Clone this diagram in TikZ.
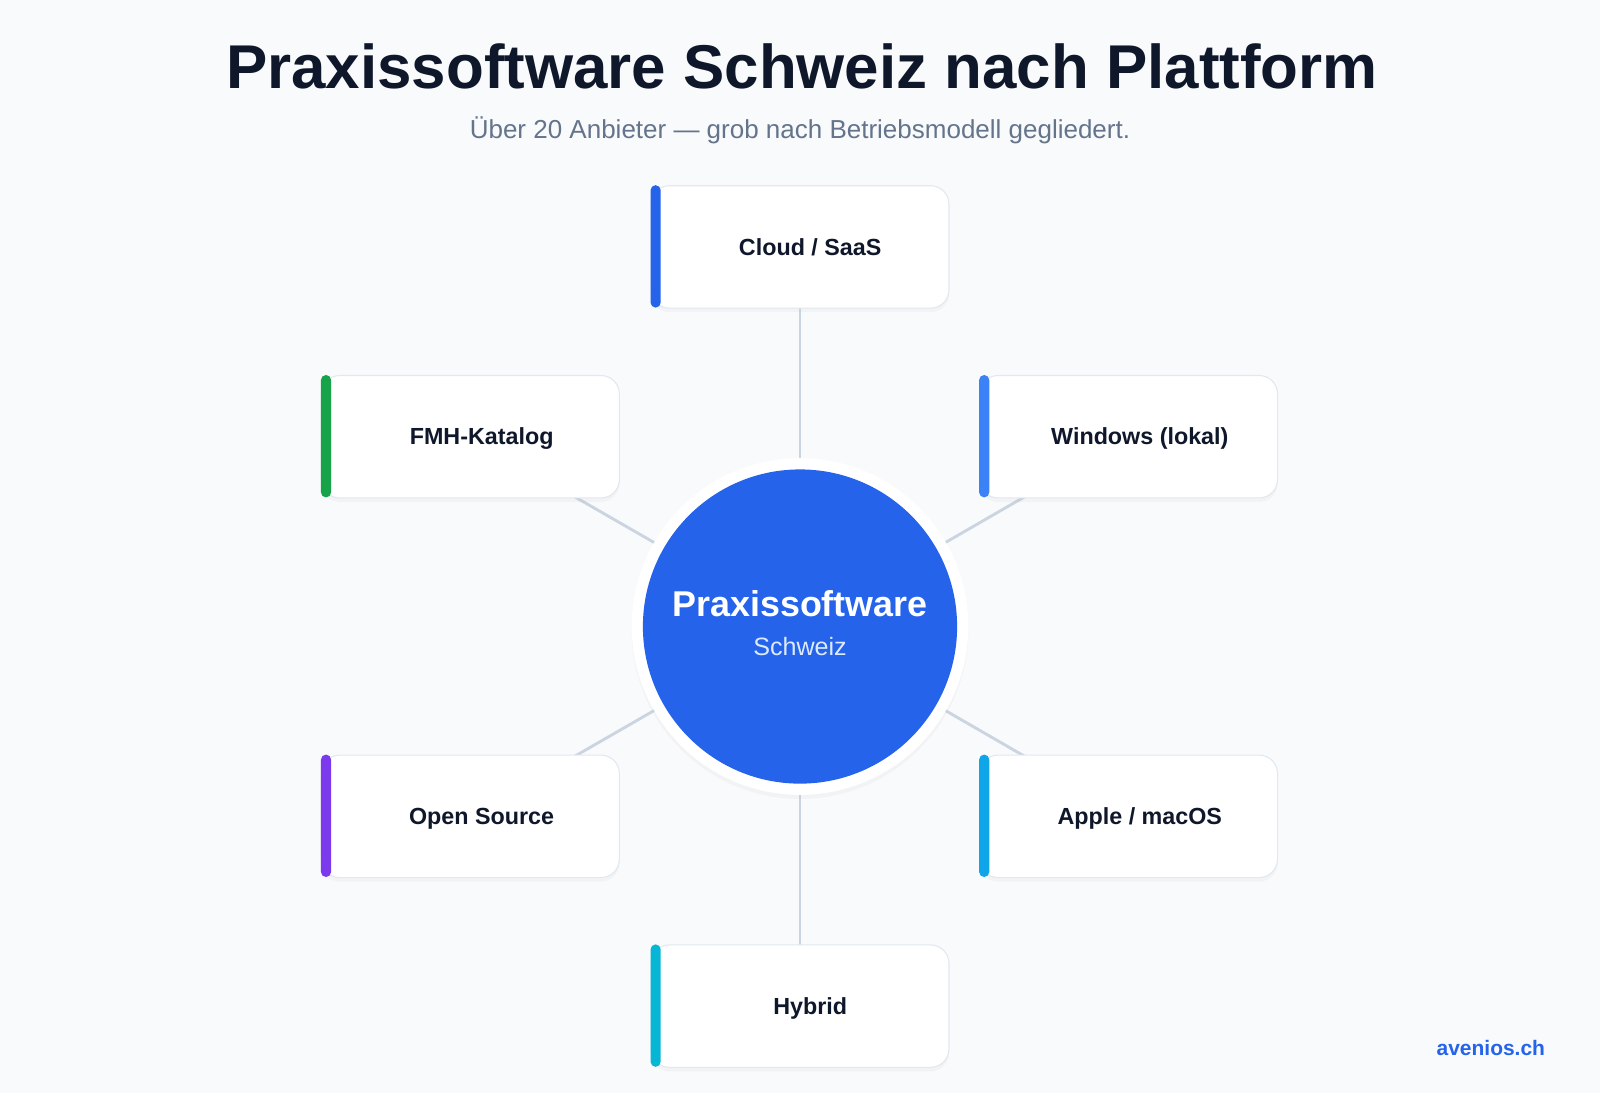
\documentclass[tikz,border=0pt]{standalone}
\usepackage{fontspec}
\setmainfont{Liberation Sans}
\usepackage{xcolor}
\usetikzlibrary{shadows}
%
\definecolor{bgpage}{HTML}{F8FAFC}
\definecolor{ink}{HTML}{0F172A}
\definecolor{muted}{HTML}{64748B}
\definecolor{hubblue}{HTML}{2563EB}
\definecolor{hubsub}{HTML}{DBEAFE}
\definecolor{linkgray}{HTML}{CBD5E1}
\definecolor{cardline}{HTML}{E2E8F0}
\definecolor{barcloud}{HTML}{2563EB}
\definecolor{barfmh}{HTML}{16A34A}
\definecolor{barwin}{HTML}{3B82F6}
\definecolor{baross}{HTML}{7C3AED}
\definecolor{barmac}{HTML}{0EA5E9}
\definecolor{barhyb}{HTML}{06B6D4}
%
\pgfdeclarelayer{back}
\pgfdeclarelayer{links}
\pgfsetlayers{back,links,main}
%
\tikzset{
    card/.style={draw=cardline, line width=0.6pt, fill=white, rounded corners=0.36cm,
        minimum width=5.84cm, minimum height=2.4cm, inner sep=0pt,
        drop shadow={opacity=0.05, shadow xshift=0pt, shadow yshift=-0.08cm}},
    cardtext/.style={anchor=base, text=ink, font=\bfseries\fontsize{13}{15}\selectfont},
    link/.style={draw=linkgray, line width=1.6pt},
    bar/.style={rounded corners=0.1cm}
}
\begin{document}
\begin{tikzpicture}[x=0.02cm, y=-0.02cm]
            \useasboundingbox (0,0) rectangle (1568,1071);
            \begin{pgfonlayer}{back}
            \fill[bgpage] (0,0) rectangle (1568,1071);
            \end{pgfonlayer}
            %
            \node[anchor=base, text=ink, font=\bfseries\fontsize{34.5}{40}\selectfont] (title) at (786,87) {Praxissoftware Schweiz nach Plattform};
            \node[anchor=base, text=muted, font=\fontsize{14.5}{17}\selectfont] (subtitle) at (784,136) {Über 20 Anbieter — grob nach Betriebsmodell gegliedert.};
            %
            \node[circle, fill=white, minimum size=6.6cm, inner sep=0pt,
                drop shadow={opacity=0.05, shadow xshift=0pt, shadow yshift=-0.08cm}] (ring) at (784,614) {};
            \node[circle, fill=hubblue, minimum size=6.16cm, inner sep=0pt] (hub) at (784,614) {};
            \node[anchor=base, text=white, font=\bfseries\fontsize{20}{24}\selectfont] (hubtitle) at (784,604) {Praxissoftware};
            \node[anchor=base, text=hubsub, font=\fontsize{14}{17}\selectfont] (hubsub) at (784,642) {Schweiz};
            %
            \node[card] (cloud) at (784,242) {};
            \node[card] (fmh) at (461,428) {};
            \node[card] (win) at (1106,428) {};
            \node[card] (oss) at (461,800) {};
            \node[card] (mac) at (1106,800) {};
            \node[card] (hyb) at (784,986) {};
            %
            \fill[barcloud, bar] (cloud.north west) rectangle ++(0.2cm,-2.4cm);
            \fill[barfmh, bar] (fmh.north west) rectangle ++(0.2cm,-2.4cm);
            \fill[barwin, bar] (win.north west) rectangle ++(0.2cm,-2.4cm);
            \fill[baross, bar] (oss.north west) rectangle ++(0.2cm,-2.4cm);
            \fill[barmac, bar] (mac.north west) rectangle ++(0.2cm,-2.4cm);
            \fill[barhyb, bar] (hyb.north west) rectangle ++(0.2cm,-2.4cm);
            %
            \node[cardtext] (cloudtxt) at (794,250) {Cloud / SaaS};
            \node[cardtext] (fmhtxt) at (472,436) {FMH-Katalog};
            \node[cardtext] (wintxt) at (1117,436) {Windows (lokal)};
            \node[cardtext] (osstxt) at (472,808) {Open Source};
            \node[cardtext] (mactxt) at (1117,808) {Apple / macOS};
            \node[cardtext] (hybtxt) at (794,994) {Hybrid};
            %
            \begin{pgfonlayer}{links}
            \draw[link] (hub.center) -- (cloud.center);
            \draw[link] (hub.center) -- (fmh.center);
            \draw[link] (hub.center) -- (win.center);
            \draw[link] (hub.center) -- (oss.center);
            \draw[link] (hub.center) -- (mac.center);
            \draw[link] (hub.center) -- (hyb.center);
            \end{pgfonlayer}
            %
            \node[anchor=base, text=hubblue, font=\bfseries\fontsize{11.7}{14}\selectfont] (brand) at (1461,1034) {avenios.ch};
\end{tikzpicture}
\end{document}
